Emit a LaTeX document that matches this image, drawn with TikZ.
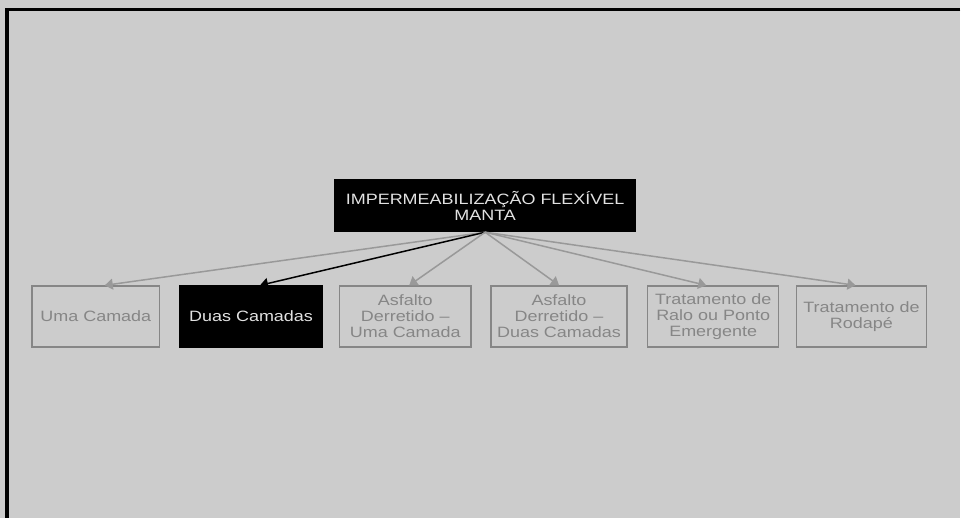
\documentclass[tikz,border=0pt]{standalone}
\usepackage{fontspec}
\setmainfont{Liberation Sans}[FakeStretch=1.2]
\usetikzlibrary{arrows.meta,positioning}

\definecolor{bggray}{HTML}{CCCCCC}
\definecolor{edgegray}{HTML}{999999}
\definecolor{boxgray}{HTML}{868686}
\definecolor{softwhite}{HTML}{E2E2E2}

\begin{document}
\begin{tikzpicture}[
  x=1pt, y=-1pt,
  block/.style={rectangle, draw=boxgray, line width=1.3pt, minimum height=61pt, align=center, text=boxgray, inner sep=2pt, font=\fontsize{15}{16}\selectfont},
  chosen/.style={block, fill=black, draw=black, text=softwhite},
  line/.style={-{Triangle[length=8pt,width=11pt]}, draw=edgegray, fill=edgegray, line width=1.5pt}
]
\fill[bggray] (0,0) rectangle (962,519);
\draw[line width=3.5pt] (962,9.5) -- (7,9.5) -- (7,519);

\node[chosen, minimum width=302pt, minimum height=52pt] (manta) at (486,206) {IMPERMEABILIZAÇÃO FLEXÍVEL\\MANTA};

\node[block, minimum width=128pt] (uma) at (96,317) {Uma Camada};
\node[chosen, minimum width=143pt] (duas) at (251.5,317) {Duas Camadas};
\node[block, minimum width=132pt] (asfuma) at (406,317) {Asfalto\\Derretido --\\Uma Camada};
\node[block, minimum width=136pt] (asfduas) at (560,317) {Asfalto\\Derretido --\\Duas Camadas};
\node[block, minimum width=131pt] (ralo) at (714.5,317) {Tratamento de\\Ralo ou Ponto\\Emergente};
\node[block, minimum width=130pt] (rodape) at (863,317) {Tratamento de\\Rodapé};

\draw[line] (manta.south) -- ([xshift=9pt]uma.north);
\draw[line, draw=black, fill=black] (manta.south) -- ([xshift=9pt]duas.north);
\draw[line] (manta.south) -- ([xshift=4pt]asfuma.north);
\draw[line] (manta.south) -- (asfduas.north);
\draw[line] (manta.south) -- ([xshift=-7pt]ralo.north);
\draw[line] (manta.south) -- ([xshift=-6pt]rodape.north);
\end{tikzpicture}
\end{document}
